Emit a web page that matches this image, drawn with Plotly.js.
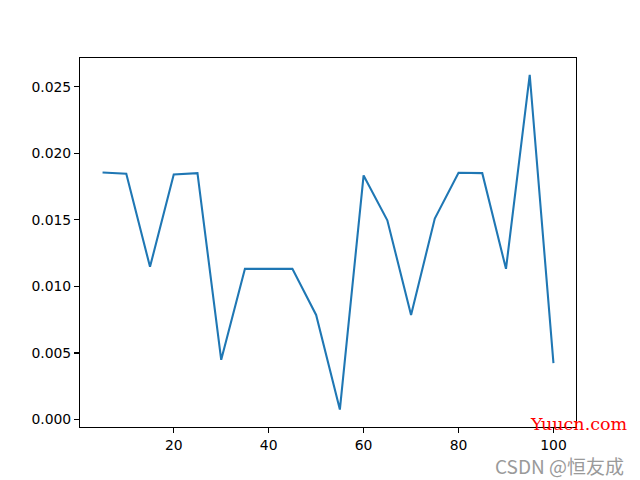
<!DOCTYPE html>
<html>
<head>
<meta charset="utf-8">
<script src="https://cdn.plot.ly/plotly-3.0.1.min.js"></script>
<style>html,body{margin:0;padding:0;background:#fff;}#chart{width:640px;height:480px;}</style>
</head>
<body>
<div id="chart"></div>
<script>
const xValues = [5, 10, 15, 20, 25, 30, 35, 40, 45, 50, 55, 60, 65, 70, 75, 80, 85, 90, 95, 100];
const yValues = [0.01856, 0.01847, 0.01147, 0.01841, 0.01851, 0.00449, 0.01132, 0.01130, 0.01132, 0.00786,
                 0.00075, 0.01834, 0.01497, 0.00786, 0.01510, 0.01854, 0.01851, 0.01132, 0.02590, 0.00424];
const xTicks = [20, 40, 60, 80, 100];
const yTicks = [0, 0.005, 0.010, 0.015, 0.020, 0.025];

const axisCommon = {
  showgrid: false, zeroline: false,
  showline: true, linecolor: '#000', linewidth: 1.1, mirror: true,
  ticks: 'outside', ticklen: 4.9, tickwidth: 1.1, tickcolor: '#000',
  tickfont: {family: 'DejaVu Sans', size: 13.9, color: '#000'}
};

const trace = {
  x: xValues, y: yValues, type: 'scatter', mode: 'lines',
  line: {color: '#1f77b4', width: 2.08}
};

const layout = {
  width: 640, height: 480,
  margin: {l: 80, r: 64, t: 58, b: 53, pad: 0},
  paper_bgcolor: '#fff', plot_bgcolor: '#fff',
  showlegend: false,
  xaxis: Object.assign({}, axisCommon, {range: [0.25, 104.75], tickvals: xTicks, ticktext: xTicks.map(String)}),
  yaxis: Object.assign({}, axisCommon, {range: [-0.00056, 0.02716], tickvals: yTicks, ticktext: yTicks.map(v => v.toFixed(3))}),
  annotations: [
    {text: 'Yuucn.com', xref: 'paper', yref: 'paper', x: 1.006, y: 0.008, xanchor: 'center', yanchor: 'middle',
     showarrow: false, borderpad: 0, font: {family: 'DejaVu Serif', size: 17.5, color: '#ff0000'}},
    {text: 'CSDN @恒友成', xref: 'paper', yref: 'paper', x: 0.966, y: -0.104, xanchor: 'center', yanchor: 'middle',
     showarrow: false, borderpad: 0, font: {family: 'Noto Sans CJK SC', size: 19, color: '#9a9a9a'}}
  ]
};

Plotly.newPlot('chart', [trace], layout, {staticPlot: true, displayModeBar: false});
</script>
</body>
</html>
